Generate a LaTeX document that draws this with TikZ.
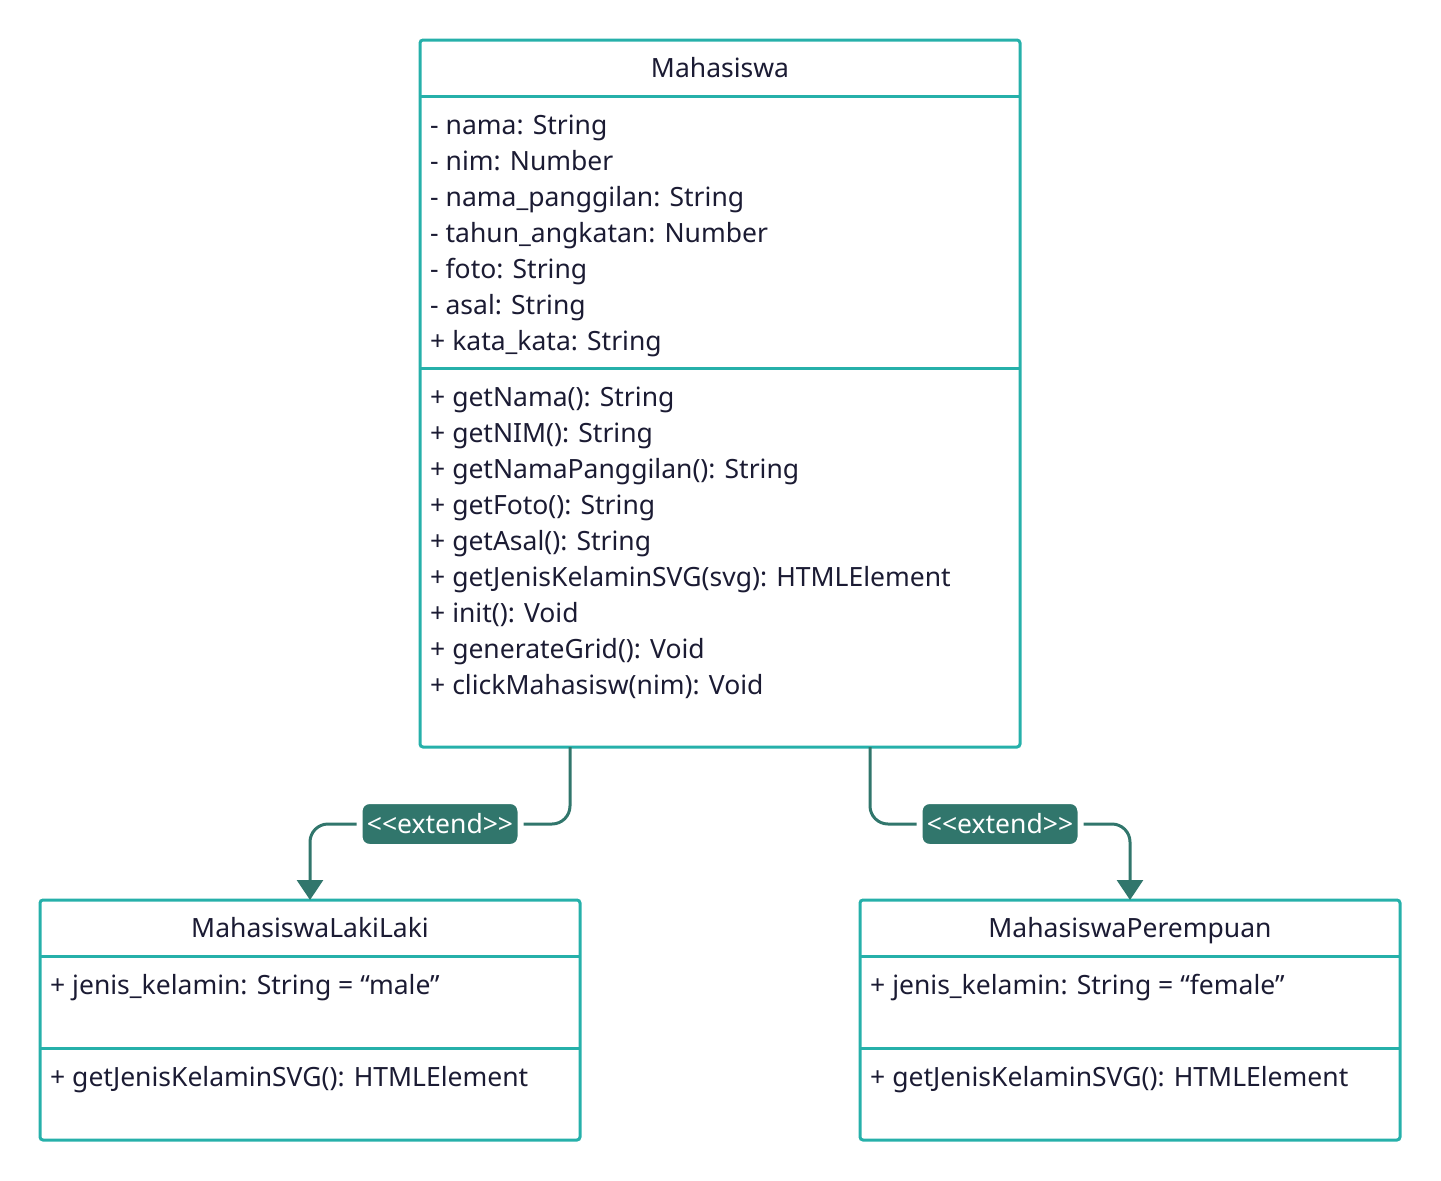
\documentclass[tikz,border=0pt]{standalone}
\usepackage{fontspec}
\setmainfont{Noto Sans}
\usetikzlibrary{arrows.meta}
\definecolor{boxteal}{HTML}{26B0AA}
\definecolor{linkteal}{HTML}{31766C}
\definecolor{txtnavy}{HTML}{1B1B33}
\tikzset{
  umlbox/.style={draw=boxteal,line width=3pt,rounded corners=3pt,anchor=north west,inner sep=0pt,outer sep=0pt},
  umlsep/.style={draw=boxteal,line width=3pt},
  umltitle/.style={text=txtnavy,font=\fontsize{26.5}{30}\selectfont,anchor=base},
  umltext/.style={text=txtnavy,font=\fontsize{26.5}{30}\selectfont,anchor=base west,inner sep=0pt},
  extendline/.style={draw=linkteal,line width=3pt,rounded corners=18pt,-{Triangle[width=26pt,length=20pt]}},
  extendlabel/.style={fill=linkteal,draw=white,line width=6pt,rounded corners=10pt,text=white,
    font=\fontsize{26.5}{30}\selectfont,inner sep=0pt,minimum height=46pt,minimum width=161pt}
}
\begin{document}
\begin{tikzpicture}[x=1pt,y=-1pt]
  \useasboundingbox (0,0) rectangle (1441,1181);

  \node[umlbox,minimum width=600pt,minimum height=707pt] (mhs) at (420,40) {};
  \draw[umlsep] (mhs.north west) ++(0,56) -- ++(600,0);
  \draw[umlsep] (mhs.north west) ++(0,328) -- ++(600,0);
  \node[umltitle] (mhs-title) at (720,77) {Mahasiswa};

  \foreach \t [count=\i from 0] in {- nama: String,- nim: Number,- nama\_panggilan: String,
      - tahun\_angkatan: Number,- foto: String,- asal: String,+ kata\_kata: String}{
    \node[umltext] (mhs-attr\i) at (430,134+36*\i) {\t};
  }
  \foreach \t [count=\i from 0] in {+ getNama(): String,+ getNIM(): String,
      + getNamaPanggilan(): String,+ getFoto(): String,+ getAsal(): String,
      + getJenisKelaminSVG(svg): HTMLElement,+ init(): Void,+ generateGrid(): Void,
      + clickMahasisw(nim): Void}{
    \node[umltext] (mhs-op\i) at (430,406+36*\i) {\t};
  }

  \node[umlbox,minimum width=540pt,minimum height=240pt] (laki) at (40,900) {};
  \draw[umlsep] (laki.north west) ++(0,56) -- ++(540,0);
  \draw[umlsep] (laki.north west) ++(0,148) -- ++(540,0);
  \node[umltitle] (laki-title) at (310,937) {MahasiswaLakiLaki};
  \node[umltext] (laki-attr) at (50,994) {+ jenis\_kelamin: String = “male”};
  \node[umltext] (laki-op) at (50,1086) {+ getJenisKelaminSVG(): HTMLElement};

  \node[umlbox,minimum width=540pt,minimum height=240pt] (pr) at (860,900) {};
  \draw[umlsep] (pr.north west) ++(0,56) -- ++(540,0);
  \draw[umlsep] (pr.north west) ++(0,148) -- ++(540,0);
  \node[umltitle] (pr-title) at (1130,937) {MahasiswaPerempuan};
  \node[umltext] (pr-attr) at (870,994) {+ jenis\_kelamin: String = “female”};
  \node[umltext] (pr-op) at (870,1086) {+ getJenisKelaminSVG(): HTMLElement};

  \draw[extendline] ([xshift=-150pt]mhs.south) -- ++(0,77) -| (laki.north);
  \draw[extendline] ([xshift=150pt]mhs.south) -- ++(0,77) -| (pr.north);
  \node[extendlabel] (ext-laki) at (440,824) {<{}<extend>{}>};
  \node[extendlabel] (ext-pr) at (1000,824) {<{}<extend>{}>};
\end{tikzpicture}
\end{document}
